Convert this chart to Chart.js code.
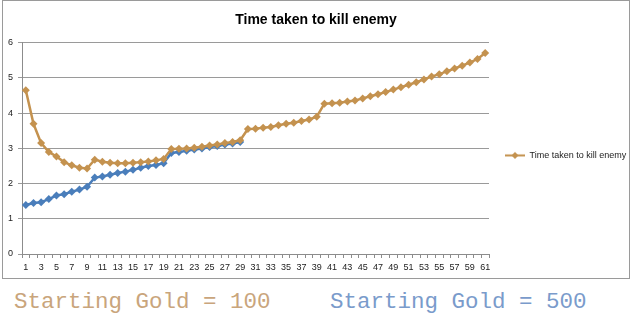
<!DOCTYPE html>
<html>
<head>
<meta charset="utf-8">
<script src="https://cdn.jsdelivr.net/npm/chart.js@4"></script>
<style>
    body { margin: 0; background: #fff; width: 636px; height: 325px; position: relative; overflow: hidden; }
    #frame { position: absolute; left: 2px; top: 0; width: 628px; height: 279px; border: 1px solid #9a9a9a; box-sizing: border-box; }
    .gold { position: absolute; top: 291px; font-family: "Liberation Mono", monospace; font-size: 22.5px; line-height: 22px; white-space: nowrap; }
    #gold100 { left: 14px; color: #c9a57c; }
    #gold500 { left: 330px; color: #7a9bcb; }
</style>
</head>
<body>
<div id="frame"><canvas id="chartTime"></canvas></div>
<div class="gold" id="gold100">Starting Gold = 100</div>
<div class="gold" id="gold500">Starting Gold = 500</div>
<script>
const labels = [];
for (let i = 1; i <= 61; i++) labels.push(String(i));

// starting gold = 100
const gold100 = [4.65, 3.70, 3.15, 2.90, 2.77, 2.61, 2.52, 2.45, 2.43, 2.68,
    2.62, 2.59, 2.58, 2.58, 2.59, 2.61, 2.63, 2.66, 2.70, 2.98,
    2.99, 3.00, 3.02, 3.05, 3.08, 3.11, 3.15, 3.18, 3.23, 3.55,
    3.56, 3.59, 3.61, 3.66, 3.70, 3.73, 3.78, 3.82, 3.90, 4.27,
    4.28, 4.30, 4.33, 4.36, 4.42, 4.48, 4.54, 4.60, 4.67, 4.74,
    4.81, 4.88, 4.96, 5.04, 5.11, 5.19, 5.27, 5.35, 5.44, 5.54, 5.71];

// starting gold = 500
const gold500 = [1.39, 1.45, 1.47, 1.56, 1.66, 1.70, 1.77, 1.83, 1.91, 2.17,
    2.20, 2.25, 2.30, 2.34, 2.39, 2.45, 2.50, 2.53, 2.58, 2.87,
    2.90, 2.93, 2.97, 3.00, 3.04, 3.07, 3.11, 3.14, 3.18];

const brown = '#c4924f';
const blue = '#4a7ebb';

// legend symbol: line with a diamond in the middle
function legendSymbol(color) {
    const c = document.createElement('canvas');
    c.width = 20;
    c.height = 9;
    const ctx = c.getContext('2d');
    ctx.strokeStyle = color;
    ctx.lineWidth = 2;
    ctx.beginPath();
    ctx.moveTo(0, 4.5);
    ctx.lineTo(20, 4.5);
    ctx.stroke();
    ctx.fillStyle = color;
    ctx.beginPath();
    ctx.moveTo(10, 1);
    ctx.lineTo(13.5, 4.5);
    ctx.lineTo(10, 8);
    ctx.lineTo(6.5, 4.5);
    ctx.closePath();
    ctx.fill();
    return c;
}

function series(label, data, color) {
    return {
        label: label,
        data: data,
        borderColor: color,
        backgroundColor: color,
        borderWidth: 2.5,
        pointStyle: 'rectRot',
        pointRadius: 4,
        pointHoverRadius: 4,
        pointBorderWidth: 0,
        pointBackgroundColor: color,
        tension: 0
    };
}

new Chart(document.getElementById('chartTime'), {
    type: 'line',
    data: {
        labels: labels,
        datasets: [
            series('Time taken to kill enemy', gold100, brown),
            series('Time taken to kill enemy (500)', gold500, blue)
        ]
    },
    options: {
        responsive: true,
        maintainAspectRatio: false,
        animation: false,
        layout: { padding: { left: 0, right: 0, top: 0, bottom: 0 } },
        plugins: {
            title: {
                display: true,
                text: 'Time taken to kill enemy',
                color: '#000',
                font: { family: 'Liberation Sans', size: 14, weight: 'bold', lineHeight: 1.2 },
                padding: { top: 11, bottom: 14 }
            },
            legend: {
                position: 'right',
                maxWidth: 140,
                // empty title only pushes the single entry down a little
                title: { display: true, text: ' ', font: { size: 9 }, padding: { top: 0, bottom: 21 } },
                labels: {
                    filter: item => item.datasetIndex === 0,
                    usePointStyle: true,
                    pointStyle: legendSymbol(brown),
                    pointStyleWidth: 20,
                    boxHeight: 9,
                    padding: 16,
                    color: '#222',
                    font: { family: 'Liberation Sans', size: 9 }
                }
            },
            tooltip: { enabled: false }
        },
        scales: {
            x: {
                offset: true,
                afterFit: s => { s.height = 24; },
                grid: { offset: true, drawOnChartArea: false, drawTicks: true, tickLength: 4, color: '#8c8c8c' },
                border: { color: '#8c8c8c' },
                ticks: {
                    autoSkip: false,
                    maxRotation: 0,
                    padding: 4,
                    color: '#222',
                    font: { family: 'Liberation Sans', size: 9 },
                    callback: (v, i) => (i % 2 === 0 ? labels[i] : '')
                }
            },
            y: {
                min: 0,
                max: 6,
                afterFit: s => { s.width = 19; },
                grid: { color: '#9a9a9a', tickLength: 4 },
                border: { color: '#8c8c8c' },
                ticks: {
                    stepSize: 1,
                    padding: 5,
                    color: '#222',
                    font: { family: 'Liberation Sans', size: 9 }
                }
            }
        }
    }
});
</script>
</body>
</html>
